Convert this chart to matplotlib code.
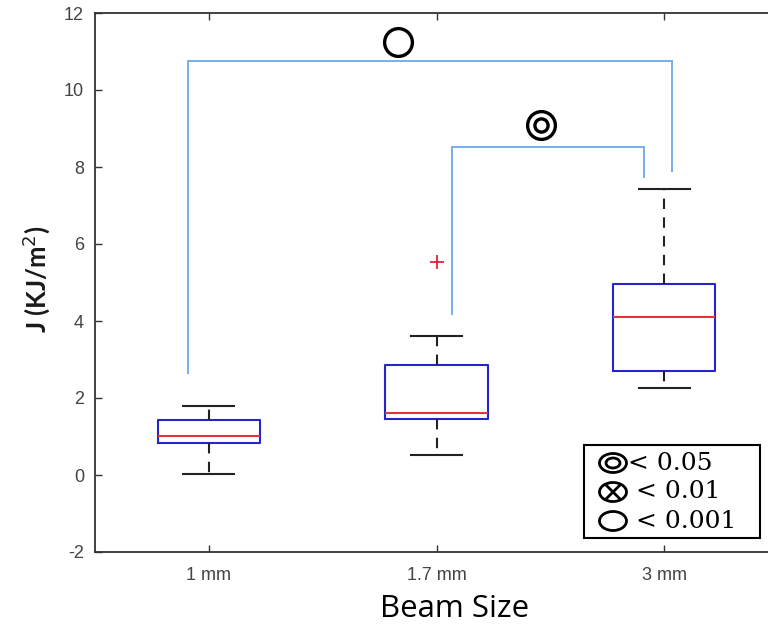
import matplotlib
matplotlib.use("Agg")
import matplotlib.pyplot as plt
from matplotlib.patches import Rectangle, Ellipse

# ---- data ----
categories = ["1 mm", "1.7 mm", "3 mm"]
q1 = [0.83, 1.45, 2.70]
medians = [1.01, 1.61, 4.10]
q3 = [1.43, 2.86, 4.96]
whisker_low = [0.03, 0.52, 2.26]
whisker_high = [1.79, 3.61, 7.43]
outliers = [[], [5.53], []]
yticks = [-2, 0, 2, 4, 6, 8, 10, 12]

# significance brackets: (x_left, x_right, y_top, y_left_bottom, y_right_bottom)
bracket_big = (0.91, 3.035, 10.75, 2.65, 7.90)
bracket_small = (2.07, 2.91, 8.52, 4.18, 7.74)
sig_big_pos = (1.83, 11.25)
sig_small_pos = (2.46, 9.09)
legend_texts = ["< 0.05", "< 0.01", "< 0.001"]

fig = plt.figure(figsize=(7.68, 6.30), dpi=100)
ax = fig.add_axes([95/768, 1-552/630, (778-95)/768, (552-13)/630])

positions = [1, 2, 3]
stats = []
for i in range(3):
    stats.append(dict(med=medians[i], q1=q1[i], q3=q3[i],
                      whislo=whisker_low[i], whishi=whisker_high[i],
                      fliers=outliers[i], label=categories[i]))

ax.bxp(stats, positions=positions, widths=0.45, capwidths=0.225,
       boxprops=dict(color="#2626c8", linewidth=1.5),
       medianprops=dict(color="#e8303a", linewidth=1.5),
       whiskerprops=dict(color="#222222", linewidth=1.5, linestyle=(0, (5, 4))),
       capprops=dict(color="#222222", linewidth=1.5),
       flierprops=dict(marker="+", markeredgecolor="#e0102a", markersize=10,
                       markeredgewidth=1.2, linestyle="none"))

br_color = "#78aeea"
for (xl, xr, yt, ylb, yrb) in (bracket_big, bracket_small):
    ax.plot([xl, xl, xr, xr], [ylb, yt, yt, yrb], color=br_color, linewidth=1.4,
            solid_joinstyle="miter")

# significance symbols
ax.plot([sig_big_pos[0]], [sig_big_pos[1]], marker="o", markersize=20,
        markerfacecolor="none", markeredgecolor="black", markeredgewidth=2.4,
        clip_on=False)
ax.plot([sig_small_pos[0]], [sig_small_pos[1]], marker="o", markersize=20,
        markerfacecolor="none", markeredgecolor="black", markeredgewidth=2.4)
ax.plot([sig_small_pos[0]], [sig_small_pos[1]], marker="o", markersize=9.5,
        markerfacecolor="none", markeredgecolor="black", markeredgewidth=2.4)

ax.set_xlim(0.5, 3.5)
ax.set_ylim(-2, 12)
ax.set_yticks(yticks)
ax.set_yticklabels([str(v) for v in yticks])
ax.set_xticks(positions)
ax.set_xticklabels(categories)

for s in ax.spines.values():
    s.set_color("#333333")
    s.set_linewidth(1.3)
ax.tick_params(direction="in", length=5, width=1, color="#333333",
               labelsize=13, labelcolor="#444444", top=True, pad=11)
ax.tick_params(axis="y", pad=8)
for lab in ax.get_xticklabels() + ax.get_yticklabels():
    lab.set_family(["Liberation Sans", "DejaVu Sans"])

ax.set_xlabel("Beam Size", fontsize=22.5, family=["Open Sans", "DejaVu Sans"], color="black")
ax.xaxis.label.set_va("center")
ax.xaxis.set_label_coords((455-95)/683, (552-609)/539)
ax.set_ylabel("J (KJ/m$^2$)", fontsize=18.5, family=["Lato", "DejaVu Sans"],
              fontweight="bold", color="#1a1a1a")
ax.yaxis.label.set_va("center")
ax.yaxis.set_label_coords((36-95)/683, 0.505)

# legend box (figure pixel coords)
W, H = 768, 630
def fx(px):
    return px / W
def fy(py):
    return 1 - py / H

fig.patches.append(Rectangle((fx(584), fy(538)), (760-584)/W, (538-445)/H,
                             transform=fig.transFigure, fill=True, facecolor="white",
                             edgecolor="black", linewidth=1.5, zorder=5))
rows_y = [463, 492, 521]
sym_x = 613
ew, eh = 27, 19
for k, yy in enumerate(rows_y):
    fig.patches.append(Ellipse((fx(sym_x), fy(yy)), ew/W, eh/H, transform=fig.transFigure,
                               fill=False, edgecolor="black", linewidth=2.0, zorder=6))
# concentric inner ring (p < 0.05)
fig.patches.append(Ellipse((fx(sym_x), fy(rows_y[0])), 14/W, 10/H, transform=fig.transFigure,
                           fill=False, edgecolor="black", linewidth=2.0, zorder=6))
# cross inside (p < 0.01)
d = 6.5
for sgn in (1, -1):
    fig.lines.append(plt.Line2D([fx(sym_x - d), fx(sym_x + d)],
                                [fy(rows_y[1] - sgn*d), fy(rows_y[1] + sgn*d)],
                                transform=fig.transFigure, color="black", linewidth=2.0,
                                zorder=6))
text_x = [628, 636, 636]
for k, txt in enumerate(legend_texts):
    fig.text(fx(text_x[k]), fy(rows_y[k]), txt, fontsize=18, va="center", ha="left",
             family=["DejaVu Serif"], zorder=7)

fig.savefig("out.png", dpi=100)
